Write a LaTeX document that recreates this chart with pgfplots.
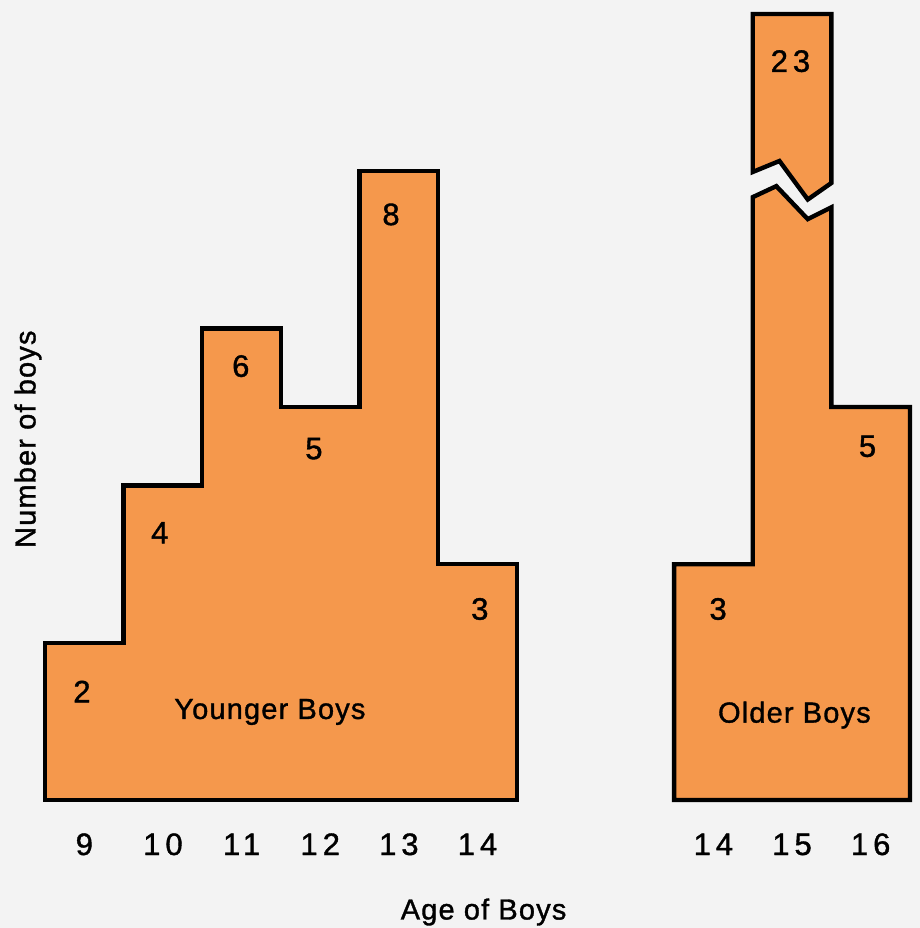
\documentclass[border=0pt]{standalone}
\usepackage{pgfplots}
\pgfplotsset{compat=1.18}
\usepackage{fontspec}
\setmainfont{Liberation Sans}
\newfontfamily\numfam[LetterSpace=16,FakeBold=1.2]{Liberation Sans}
\newfontfamily\txtfam[LetterSpace=4,FakeBold=1.2]{Liberation Sans}
\usetikzlibrary{backgrounds}
\definecolor{barfill}{RGB}{245,152,76}
\definecolor{bgc}{RGB}{243,243,243}
\newcommand\numfont{\fontsize{15.5}{18}\selectfont\numfam}
\newcommand\txtfont{\fontsize{14.5}{17}\selectfont\txtfam}
\begin{document}
\begin{tikzpicture}
\begin{axis}[
  name=ax,
  scale only axis, width=432.5pt, height=393pt,
  xmin=8.5, xmax=19.5, ymin=0, ymax=10,
  clip=false,
  axis line style={draw=none},
  major tick length=0pt,
  ytick=\empty,
  xtick={9,10,11,12,13,14,17,18,19},
  xticklabels={9,10,11,12,13,14,14,15,16},
  xticklabel style={anchor=base, yshift=-27.5pt, font=\numfont},
  xlabel={Age of Boys},
  ylabel={Number of boys},
  every axis x label/.style={at={(axis description cs:0.507,-0.1425)}, anchor=center, font=\txtfont},
  every axis y label/.style={at={(axis description cs:-0.0197,0.459)}, rotate=90, anchor=center, font=\txtfont},
]
% Younger boys (ages 9-14)
\addplot[const plot, fill=barfill, draw=black, line width=2.2pt, line join=miter]
  coordinates {(8.5,2) (9.5,4) (10.5,6) (11.5,5) (12.5,8) (13.5,3) (14.5,3)} \closedcycle;
% Older boys (ages 14-16), lower part with break
\addplot[fill=barfill, draw=black, line width=2.2pt, line join=miter]
  coordinates {(16.5,0) (16.5,3) (17.5,3) (17.5,7.67) (17.8,7.81) (18.2,7.39) (18.5,7.54) (18.5,5) (19.5,5) (19.5,0)} -- cycle;
% Older boys, top part of the 23 bar
\addplot[fill=barfill, draw=black, line width=2.2pt, line join=miter]
  coordinates {(17.5,7.99) (17.5,10) (18.5,10) (18.5,7.85) (18.2,7.64) (17.84,8.13)} -- cycle;
% value labels
\addplot[only marks, mark=none, nodes near coords, point meta=explicit symbolic,
  nodes near coords align=center, every node near coord/.append style={font=\numfont, text=black}]
  table[meta=lab] {
x y lab
8.97 1.38 2
9.96 3.40 4
10.99 5.52 6
11.92 4.47 5
12.90 7.45 8
14.03 2.43 3
17.06 2.43 3
17.98 9.40 23
18.96 4.50 5
};
\addplot[only marks, mark=none, nodes near coords, point meta=explicit symbolic,
  nodes near coords align=center, every node near coord/.append style={font=\txtfont, text=black}]
  table[meta=lab, col sep=comma, row sep=\\] {
x,y,lab\\
11.36,1.12,Younger Boys\\
18.03,1.08,Older Boys\\
};
\end{axis}
\begin{pgfonlayer}{background}
\fill[bgc] ([shift={(-22.5pt,-64pt)}]ax.south west) rectangle ([shift={(5pt,7pt)}]ax.north east);
\end{pgfonlayer}
\pgfresetboundingbox
\useasboundingbox ([shift={(-22.5pt,-64pt)}]ax.south west) rectangle ([shift={(5pt,7pt)}]ax.north east);
\end{tikzpicture}
\end{document}
